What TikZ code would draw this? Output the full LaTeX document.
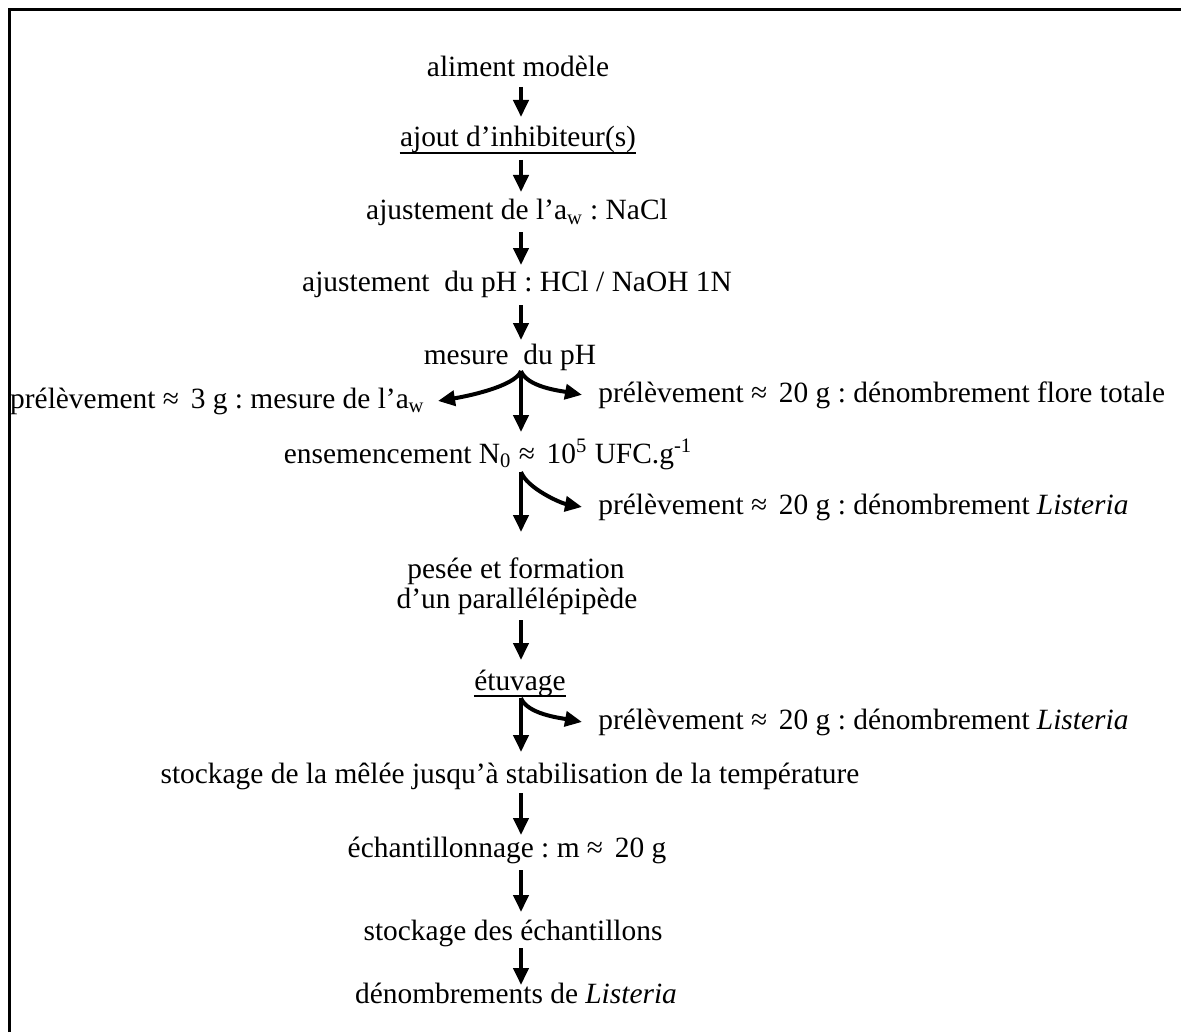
\documentclass[tikz,border=0pt]{standalone}
\usepackage{fontspec}
\setmainfont{Liberation Serif}
\usetikzlibrary{arrows.meta,calc}
\frenchspacing
\newcommand{\approxgap}{≈\hspace{0.4em}}
\begin{document}
\begin{tikzpicture}[x=0.5pt,y=-0.5pt,
  font=\fontsize{14.7pt}{17pt}\selectfont,
  lbl/.style={inner sep=0pt, anchor=base},
  lblL/.style={inner sep=0pt, anchor=base west},
  lblR/.style={inner sep=0pt, anchor=base east},
  flow/.style={line width=2pt, -{Triangle[length=8.5pt,width=7.5pt]}},
  uline/.style={line width=0.75pt},
  frame/.style={line width=1.5pt}]
\useasboundingbox (0,0) rectangle (1181,1032);
\draw[frame] (9,1032) -- (9,10) -- (1181,10);
\coordinate (spine) at (521,0);

% main sequence of steps
\node[lbl] (n1) at (518,77) {aliment modèle};
\node[lbl] (n2) at (518,147) {ajout d’inhibiteur(s)};
\node[lbl] (n3) at (517,220) {ajustement de l’a\textsubscript{w} : NaCl};
\node[lbl] (n4) at (517,291) {ajustement\ \ du pH : HCl / NaOH 1N};
\node[lbl] (n5) at (510,364) {mesure\ \ du pH};
\node[lblR] (pl1) at (425,408) {prélèvement \approxgap 3 g : mesure de l’a\textsubscript{w}};
\node[lblL] (pr1) at (598,402) {prélèvement \approxgap 20 g : dénombrement flore totale};
\node[lbl] (n6) at (488,463) {ensemencement N\textsubscript{0} \approxgap 10\textsuperscript{5} UFC.g\textsuperscript{-1}};
\node[lblL] (pr2) at (598,514) {prélèvement \approxgap 20 g : dénombrement \textit{Listeria}};
\node[lbl] (n7) at (516,578) {pesée et formation};
\node[lbl] (n7b) at (517,608) {d’un parallélépipède};
\node[lbl] (n8) at (520,690) {étuvage};
\node[lblL] (pr3) at (598,729) {prélèvement \approxgap 20 g : dénombrement \textit{Listeria}};
\node[lbl] (n9) at (510,783) {stockage de la mêlée jusqu’à stabilisation de la température};
\node[lbl] (n10) at (507,857) {échantillonnage : m \approxgap 20 g};
\node[lbl] (n11) at (513,940) {stockage des échantillons};
\node[lbl] (n12) at (516,1003) {dénombrements de \textit{Listeria}};

% underlined steps
\draw[uline] ($(n2.base west)+(0,6)$) -- ($(n2.base east)+(0,6)$);
\draw[uline] ($(n8.base west)+(0,6)$) -- ($(n8.base east)+(0,6)$);

% straight connectors
\draw[flow] ($(n1.base -| spine)+(0,10)$) -- ($(n2.base -| spine)+(0,-30)$);
\draw[flow] ($(n2.base -| spine)+(0,13)$) -- ($(n3.base -| spine)+(0,-28)$);
\draw[flow] ($(n3.base -| spine)+(0,12)$) -- ($(n4.base -| spine)+(0,-26)$);
\draw[flow] ($(n4.base -| spine)+(0,14)$) -- ($(n5.base -| spine)+(0,-24)$);
\draw[flow] ($(n7b.base -| spine)+(0,12)$) -- ($(n8.base -| spine)+(0,-30)$);
\draw[flow] ($(n9.base -| spine)+(0,10)$) -- ($(n10.base -| spine)+(0,-22)$);
\draw[flow] ($(n10.base -| spine)+(0,13)$) -- ($(n11.base -| spine)+(0,-28)$);
\draw[flow] ($(n11.base -| spine)+(0,8)$) -- ($(n12.base -| spine)+(0,-18)$);

% branching points with sampling side arrows
\coordinate (b1) at ($(n5.base -| spine)+(0,7)$);
\coordinate (b2) at ($(n6.base -| spine)+(0,9)$);
\coordinate (b3) at ($(n8.base -| spine)+(0,8)$);

\draw[flow] (b1) -- ($(n6.base -| spine)+(0,-31)$);
\draw[flow] (b1) .. controls ($(b1)+(-6,16)$) and ($(pl1.east)+(38,-4)$) .. ($(pl1.east)+(13,0)$);
\draw[flow] (b1) .. controls ($(b1)+(6,16)$) and ($(pr1.west)+(-38,-4)$) .. ($(pr1.west)+(-16,0)$);

\draw[flow] (b2) -- ($(n7.base -| spine)+(0,-46)$);
\draw[flow] (b2) .. controls ($(b2)+(6,16)$) and ($(pr2.west)+(-38,-4)$) .. ($(pr2.west)+(-16,0)$);

\draw[flow] (b3) -- ($(n9.base -| spine)+(0,-31)$);
\draw[flow] (b3) .. controls ($(b3)+(6,16)$) and ($(pr3.west)+(-38,-4)$) .. ($(pr3.west)+(-16,0)$);
\end{tikzpicture}
\end{document}
